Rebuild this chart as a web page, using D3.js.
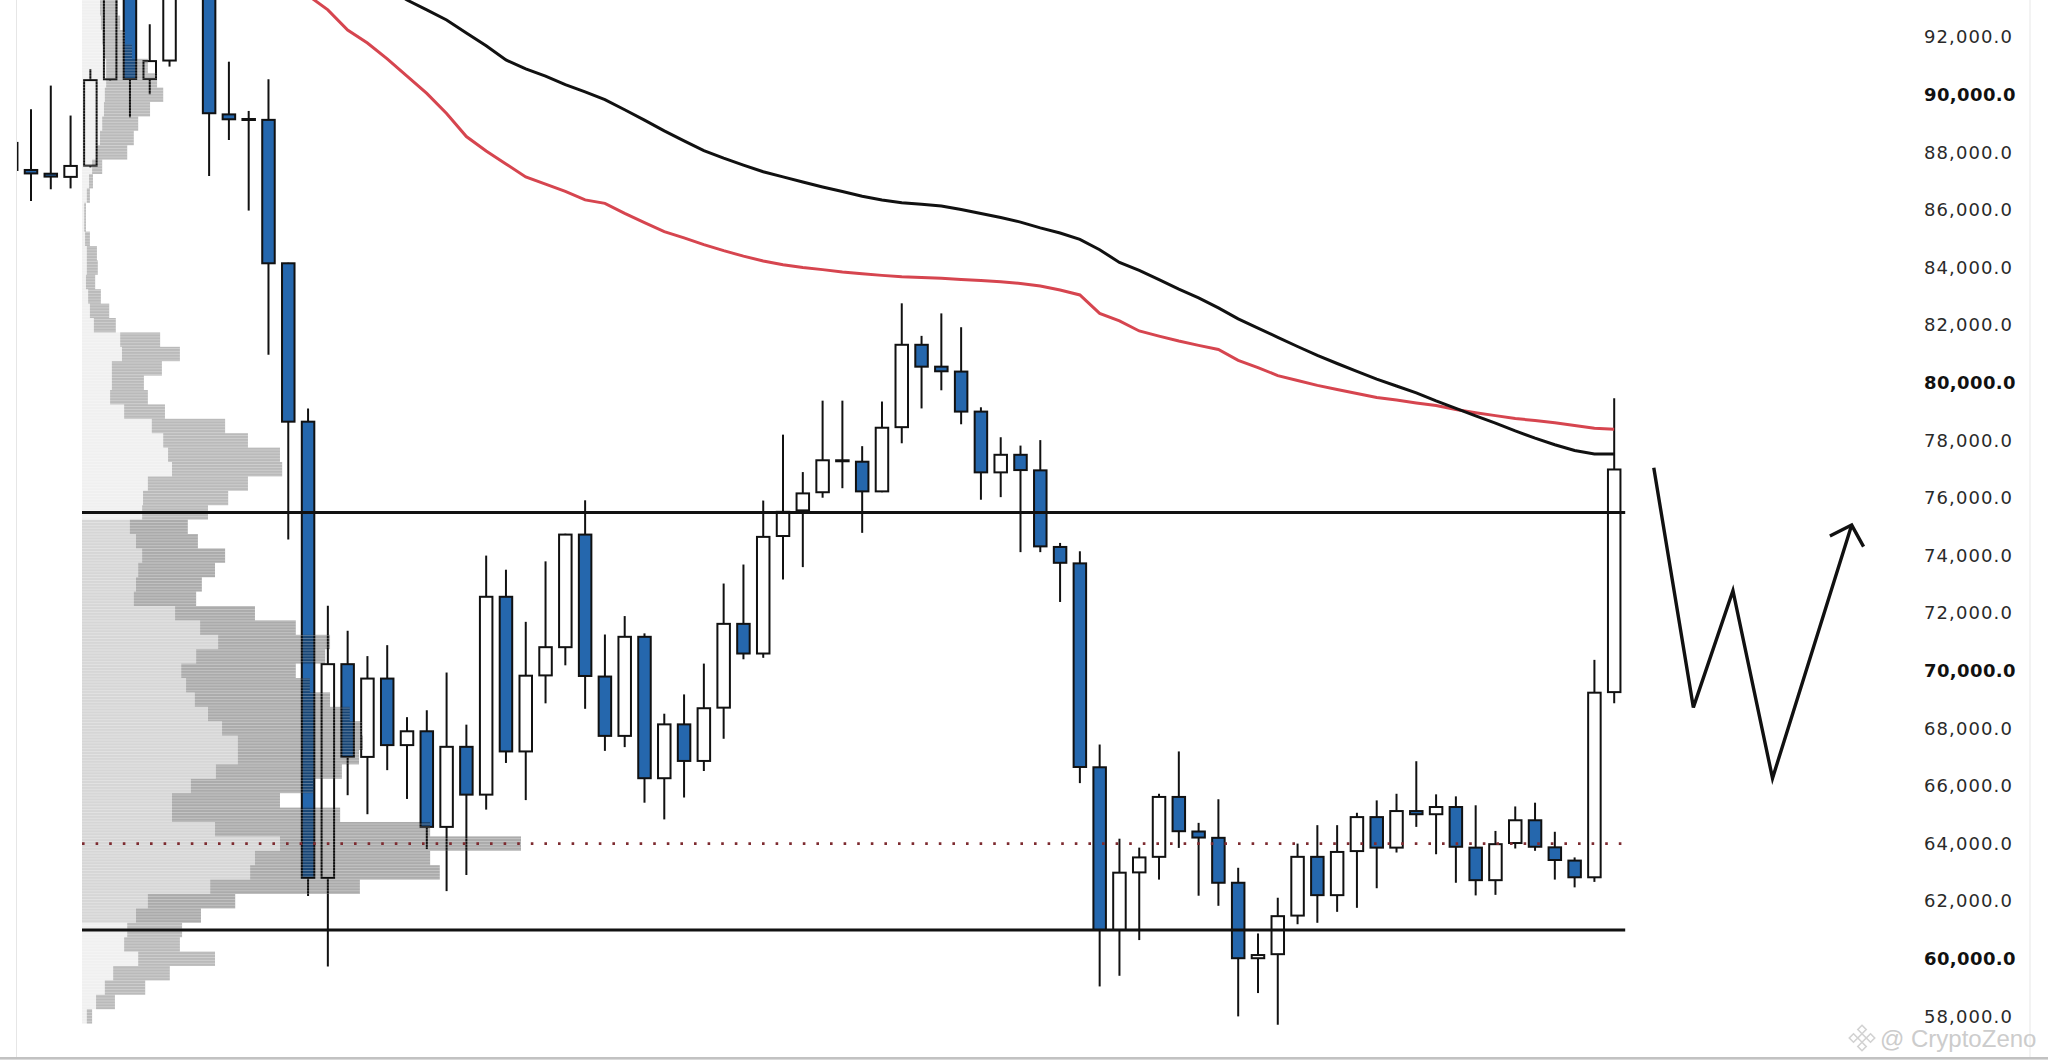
<!DOCTYPE html>
<html>
<head>
<meta charset="utf-8">
<script src="https://cdn.jsdelivr.net/npm/d3@7"></script>
<style>
  html, body { margin: 0; padding: 0; background: #fff; }
  svg { display: block; }
</style>
</head>
<body>
<div id="chart"></div>
<script>
// candles, index -1 is the one cut by the left edge
const firstIndex = -1;
const opens = [88330, 87390, 87260, 87150, 87540, 90540, 94600, 90550, 91190, 94200,
  94900, 89320, 89160, 89130, 84150, 78650, 62810, 70230, 67010, 69730,
  67420, 67900, 64580, 67360, 65700, 72570, 67200, 69840, 70820, 74730,
  69800, 67740, 71180, 66270, 68140, 66870, 68720, 71630, 70600, 74680,
  75570, 76200, 77310, 77260, 76230, 78460, 81320, 80560, 80390, 79000,
  76890, 77500, 76960, 74300, 73730, 66650, 61000, 63000, 63540, 65620,
  64420, 64200, 62640, 60020, 60160, 61500, 63540, 62210, 63740, 64920,
  63860, 65130, 65020, 65270, 63860, 62730, 64020, 64810, 63870, 63410,
  62830, 69260];
const highs = [88400, 89500, 90320, 89280, 90890, 95000, 95200, 92450, 94800, 95400,
  95100, 91150, 89440, 90540, 84170, 79110, 72260, 71390, 70510, 70890,
  68390, 68630, 69940, 68130, 74000, 73510, 71700, 73800, 74760, 75920,
  71260, 71900, 71300, 68510, 69180, 70250, 73030, 73690, 75910, 78200,
  76900, 79380, 79380, 77800, 79350, 82760, 81630, 82410, 81930, 79150,
  78110, 77820, 78010, 74440, 74150, 67440, 64170, 63860, 65730, 67200,
  64720, 65540, 63160, 60880, 62120, 64000, 64640, 64640, 65070, 65500,
  65730, 66860, 65710, 65640, 65330, 64440, 65290, 65420, 64410, 63520,
  70380, 79460];
const lows = [87300, 86310, 86720, 86750, 87480, 90500, 89220, 90020, 90980, 93600,
  87180, 88430, 85980, 80970, 74560, 62180, 59730, 65680, 65020, 66550,
  65550, 63810, 62350, 62910, 65180, 66800, 65510, 68870, 70190, 68680,
  67220, 67350, 65420, 64840, 65600, 66520, 67640, 70400, 70450, 73170,
  73600, 76010, 76340, 74790, 76200, 77900, 79110, 79740, 78560, 75940,
  76030, 74120, 74120, 72390, 66100, 59040, 59410, 60650, 62750, 63850,
  62190, 61840, 58000, 58810, 57710, 61200, 61250, 61630, 61770, 62450,
  63690, 64580, 63630, 62640, 62200, 62220, 63830, 63750, 62750, 62480,
  62670, 68870];
const closes = [87390, 87270, 87160, 87530, 90510, 94600, 90550, 91170, 94200, 94900,
  89360, 89150, 89160, 84150, 78650, 62810, 70230, 67010, 69730, 67420,
  67900, 64580, 67360, 65700, 72570, 67200, 69830, 70820, 74730, 69820,
  67740, 71180, 66270, 68140, 66870, 68700, 71630, 70600, 74650, 75520,
  76160, 77310, 77290, 76230, 78440, 81320, 80560, 80400, 79000, 76890,
  77500, 76970, 74320, 73750, 66660, 61000, 62990, 63520, 65620, 64430,
  64210, 62640, 60020, 60130, 61480, 63540, 62210, 63710, 64920, 63860,
  65130, 65020, 65270, 63890, 62730, 63980, 64810, 63890, 63430, 62830,
  69240, 76990];

// moving averages
const maBlackStart = 18;
const maBlack = [93750, 93290, 92950, 92600, 92150, 91700, 91210, 90900, 90650, 90350,
  90100, 89830, 89480, 89120, 88750, 88400, 88060, 87800, 87560, 87330,
  87150, 86970, 86800, 86640, 86480, 86350, 86255, 86200, 86140, 86020,
  85880, 85740, 85580, 85380, 85200, 84980, 84620, 84180, 83900, 83580,
  83250, 82950, 82600, 82220, 81900, 81580, 81260, 80950, 80670, 80400,
  80130, 79890, 79650, 79370, 79110, 78850, 78600, 78330, 78080, 77850,
  77650, 77530, 77530];
const maRedStart = 14;
const maRed = [93450, 92950, 92250, 91800, 91250, 90650, 90050, 89350, 88550, 88050,
  87600, 87150, 86900, 86650, 86350, 86230, 85880, 85560, 85250, 85030,
  84800, 84590, 84400, 84230, 84100, 84000, 83930, 83850, 83790, 83730,
  83685, 83660, 83630, 83590, 83550, 83510, 83450, 83360, 83220, 83050,
  82410, 82150, 81800, 81620, 81450, 81300, 81155, 80780, 80530, 80250,
  80080, 79910, 79770, 79630, 79490, 79400, 79300, 79210, 79070, 78960,
  78860, 78760, 78690, 78610, 78520, 78420, 78385];

// volume profile, bins of 500 centred on these prices
const profilePrices = d3.range(58000, 93501, 500);
const profileTotal = [2.3, 7.5, 14.4, 20.0, 30.3, 22.3, 22.8, 27.1, 34.9, 63.3,
  81.5, 79.3, 100, 79.3, 58.8, 45.1, 52.6, 59.2, 63.1, 64.0,
  63.8, 61.0, 56.5, 51.9, 48.7, 55.4, 56.5, 48.7, 39.4, 26.0,
  27.3, 30.3, 32.6, 26.4, 24.1, 28.7, 33.3, 37.8, 45.6, 45.1,
  37.8, 32.6, 18.9, 15.0, 14.1, 18.2, 22.3, 17.8, 7.7, 6.2,
  4.3, 3.0, 3.6, 3.4, 1.8, 0.9, 0.9, 1.8, 2.5, 4.6,
  10.3, 11.8, 12.8, 15.5, 18.5, 17.1, 15.0, 11.4, 9.8, 8.7,
  8.2, 8.2];
const profileUp = [1.1, 3.2, 5.2, 7.1, 12.8, 9.6, 10.3, 12.3, 15.0, 29.2,
  38.3, 39.4, 45.1, 30.3, 20.5, 20.5, 24.8, 30.5, 35.5, 35.5,
  31.9, 28.7, 25.7, 23.7, 22.6, 26.0, 31.0, 26.9, 21.2, 11.8,
  12.3, 12.8, 13.7, 12.3, 10.9, 13.7, 13.9, 15.0, 20.5, 19.6,
  18.5, 15.9, 9.6, 6.4, 6.8, 6.8, 9.1, 8.7, 2.7, 1.8,
  1.4, 0.9, 1.1, 1.1, 0.7, 0.5, 0.5, 1.1, 1.6, 2.3,
  3.4, 4.1, 4.6, 5.0, 5.2, 5.5, 5.5, 5.0, 4.6, 4.3,
  4.1, 4.1];
const valueAreaHigh = 75500;
const valueAreaLow = 61000;
const pocPrice = 64000;

// hand drawn projection (bar index, price)
const sketchIndex = [82, 84, 86, 88, 92];
const sketchPrice = [77050, 68730, 72780, 66270, 75060];
const arrowIndex = [90.9, 92, 92.6];
const arrowPrice = [74680, 75060, 74310];

// price axis
const priceTicks = d3.range(58000, 92001, 2000);
const boldTicks = [60000, 70000, 80000, 90000];

const W = 2048, H = 1061;
const plotLeft = 17, plotRight = 2030, plotBottom = 1057;

const x = d3.scaleLinear().domain([0, 80]).range([31, 1614.2]);
const y = d3.scaleLinear().domain([56451, 93292]).range([H, 0]);
const vx = d3.scaleLinear().domain([0, 100]).range([82, 521]);

const svg = d3.select("#chart")
  .append("svg")
  .attr("width", W)
  .attr("height", H);

const defs = svg.append("defs");
defs.append("clipPath").attr("id", "plot")
  .append("rect")
  .attr("x", plotLeft).attr("y", 0)
  .attr("width", plotRight - plotLeft).attr("height", plotBottom);

const stripes = defs.append("pattern")
  .attr("id", "stripes")
  .attr("width", 8).attr("height", 2.9)
  .attr("patternUnits", "userSpaceOnUse");
stripes.append("rect")
  .attr("width", 8).attr("height", 0.8)
  .attr("fill", "#fff").attr("fill-opacity", 0.35);

svg.append("rect").attr("width", W).attr("height", H).attr("fill", "#fff");

const plot = svg.append("g").attr("clip-path", "url(#plot)");

// candles
const candles = opens.map((o, k) => ({
  i: k + firstIndex, o: o, h: highs[k], l: lows[k], c: closes[k]
}));

const bodyW = 12.5;
plot.append("g")
  .selectAll("line")
  .data(candles)
  .join("line")
  .attr("x1", d => x(d.i)).attr("x2", d => x(d.i))
  .attr("y1", d => y(d.h)).attr("y2", d => y(d.l))
  .attr("stroke", "#111")
  .attr("stroke-width", 2);

plot.append("g")
  .selectAll("rect")
  .data(candles)
  .join("rect")
  .attr("x", d => x(d.i) - bodyW / 2)
  .attr("y", d => y(Math.max(d.o, d.c)))
  .attr("width", bodyW)
  .attr("height", d => Math.max(1, Math.abs(y(d.o) - y(d.c))))
  .attr("fill", d => d.c >= d.o ? "#fff" : "#2567ad")
  .attr("stroke", "#111")
  .attr("stroke-width", 2);

// volume profile drawn over the candles
const bins = profilePrices.map((p, k) => ({
  p: p, up: profileUp[k], total: profileTotal[k],
  va: p > valueAreaLow && p < valueAreaHigh
}));

const prof = plot.append("g");
prof.selectAll(".up")
  .data(bins)
  .join("rect")
  .attr("class", "up")
  .attr("x", vx(0))
  .attr("y", d => y(d.p + 250))
  .attr("width", d => vx(d.up) - vx(0))
  .attr("height", d => y(d.p - 250) - y(d.p + 250))
  .attr("fill", "#000")
  .attr("fill-opacity", d => d.va ? 0.16 : 0.06);

prof.selectAll(".down")
  .data(bins)
  .join("rect")
  .attr("class", "down")
  .attr("x", d => vx(d.up))
  .attr("y", d => y(d.p + 250))
  .attr("width", d => vx(d.total) - vx(d.up))
  .attr("height", d => y(d.p - 250) - y(d.p + 250))
  .attr("fill", "#000")
  .attr("fill-opacity", d => d.va ? 0.33 : 0.27);

prof.selectAll(".tex")
  .data(bins)
  .join("rect")
  .attr("class", "tex")
  .attr("x", vx(0))
  .attr("y", d => y(d.p + 250))
  .attr("width", d => vx(d.total) - vx(0))
  .attr("height", d => y(d.p - 250) - y(d.p + 250))
  .attr("fill", "url(#stripes)");

// value area lines and poc
const lineEnd = x(80) + 11;
plot.selectAll(".va")
  .data([valueAreaHigh, valueAreaLow])
  .join("line")
  .attr("class", "va")
  .attr("x1", vx(0)).attr("x2", lineEnd)
  .attr("y1", d => y(d)).attr("y2", d => y(d))
  .attr("stroke", "#111")
  .attr("stroke-width", 3);

plot.append("line")
  .attr("x1", vx(0)).attr("x2", lineEnd)
  .attr("y1", y(pocPrice)).attr("y2", y(pocPrice))
  .attr("stroke", "#7d2b30")
  .attr("stroke-width", 2.6)
  .attr("stroke-dasharray", "2.6,11");

// moving averages
const maLine = d3.line()
  .x(d => x(d[0]))
  .y(d => y(d[1]));

plot.append("path")
  .datum(maRed.map((v, k) => [k + maRedStart, v]))
  .attr("d", maLine)
  .attr("fill", "none")
  .attr("stroke", "#d6454f")
  .attr("stroke-width", 3);

plot.append("path")
  .datum(maBlack.map((v, k) => [k + maBlackStart, v]))
  .attr("d", maLine)
  .attr("fill", "none")
  .attr("stroke", "#111")
  .attr("stroke-width", 3);

// projection sketch
plot.append("path")
  .datum(sketchIndex.map((v, k) => [v, sketchPrice[k]]))
  .attr("d", maLine)
  .attr("fill", "none")
  .attr("stroke", "#111")
  .attr("stroke-width", 3.4)
  .attr("stroke-linejoin", "miter");

plot.append("path")
  .datum(arrowIndex.map((v, k) => [v, arrowPrice[k]]))
  .attr("d", maLine)
  .attr("fill", "none")
  .attr("stroke", "#111")
  .attr("stroke-width", 3.4)
  .attr("stroke-linejoin", "miter");

// frame
svg.append("line")
  .attr("x1", 16.5).attr("x2", 16.5).attr("y1", 0).attr("y2", plotBottom)
  .attr("stroke", "#e6e6e6").attr("stroke-width", 1);
svg.append("line")
  .attr("x1", plotRight).attr("x2", plotRight).attr("y1", 0).attr("y2", plotBottom)
  .attr("stroke", "#efefef").attr("stroke-width", 1.5);
svg.append("rect")
  .attr("x", 0).attr("y", plotBottom).attr("width", W).attr("height", 2.6)
  .attr("fill", "#c2c2c2");

// price scale
const yAxis = svg.append("g")
  .attr("transform", "translate(1924,0)")
  .call(d3.axisRight(y)
    .tickValues(priceTicks)
    .tickSize(0)
    .tickPadding(0)
    .tickFormat(d3.format(",.1f")));
yAxis.select(".domain").remove();
yAxis.attr("font-family", "'DejaVu Sans', sans-serif").attr("font-size", 18);
yAxis.selectAll("text")
  .attr("fill", d => boldTicks.includes(d) ? "#111" : "#2a2a2a")
  .attr("font-weight", d => boldTicks.includes(d) ? "bold" : "normal")
  .attr("letter-spacing", d => boldTicks.includes(d) ? 0.4 : 1.1);

// watermark
const wm = svg.append("g").attr("transform", "translate(1862,1038)");
const diamonds = [[0, 0], [-8.5, 0], [8.5, 0], [0, -8.5], [0, 8.5]];
wm.selectAll("path")
  .data(diamonds)
  .join("path")
  .attr("d", d => `M${d[0]},${d[1] - 4.2}L${d[0] + 4.2},${d[1]}L${d[0]},${d[1] + 4.2}L${d[0] - 4.2},${d[1]}Z`)
  .attr("fill", "none")
  .attr("stroke", "#d2d2d2")
  .attr("stroke-width", 1.6);
svg.append("text")
  .attr("x", 1880).attr("y", 1038)
  .attr("dominant-baseline", "central")
  .attr("font-family", "'Liberation Sans', Arial, sans-serif")
  .attr("font-size", 24)
  .attr("fill", "#cccccc")
  .text("@ CryptoZeno");
</script>
</body>
</html>
